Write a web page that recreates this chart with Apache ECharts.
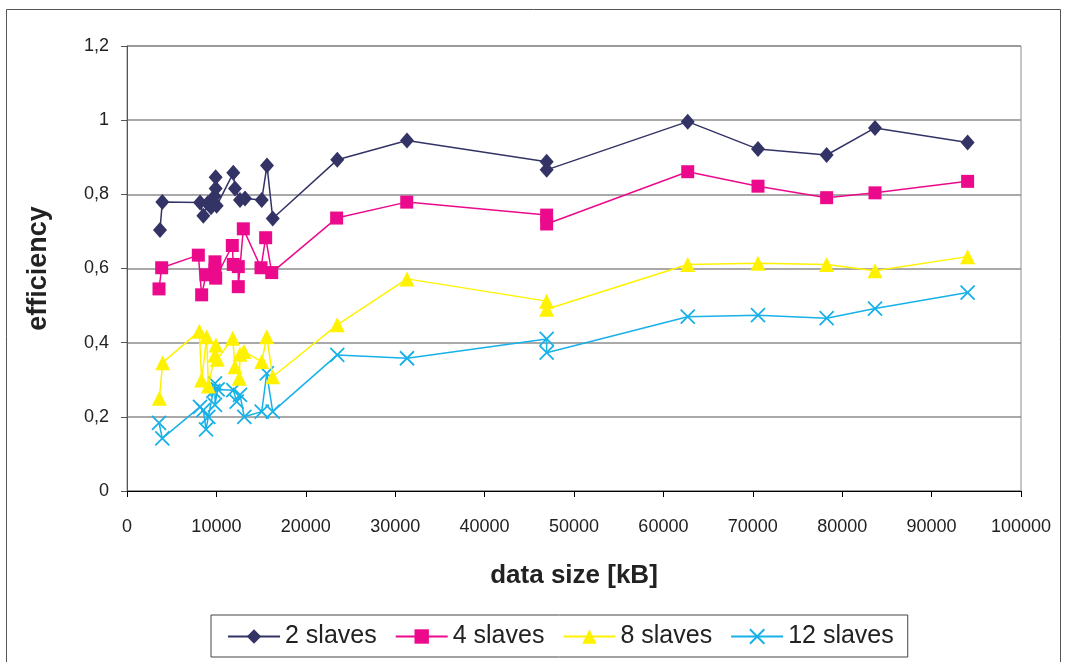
<!DOCTYPE html>
<html>
<head>
<meta charset="utf-8">
<script src="https://cdn.jsdelivr.net/npm/echarts@6/dist/echarts.min.js"></script>
<style>
  html, body { margin: 0; padding: 0; background: #fff; }
  #chart { width: 1067px; height: 662px; }
</style>
</head>
<body>
<div id="chart"></div>
<script>
// Parallel efficiency vs. input data size, one series per number of slaves
const seriesNames = ['2 slaves', '4 slaves', '8 slaves', '12 slaves'];

const sizes2 = [3690, 3950, 8170, 8540, 9020, 9400, 9920, 9920, 9800, 10030, 11890, 12080, 12640, 13200, 15070, 15660, 16300, 23520, 31320, 46940, 46940, 62720, 70580, 78260, 83670, 94030];
const eff2   = [0.704, 0.779, 0.778, 0.742, 0.776, 0.765, 0.846, 0.816, 0.795, 0.769, 0.858, 0.816, 0.785, 0.789, 0.785, 0.878, 0.735, 0.893, 0.945, 0.888, 0.866, 0.996, 0.922, 0.906, 0.979, 0.940];

const sizes4 = [3580, 3880, 7980, 8350, 8840, 9840, 9840, 9920, 11780, 11890, 12450, 12450, 13010, 14990, 15510, 16190, 23450, 31290, 46940, 46940, 62720, 70580, 78260, 83670, 94030];
const eff4   = [0.545, 0.602, 0.636, 0.529, 0.583, 0.618, 0.596, 0.574, 0.662, 0.611, 0.605, 0.551, 0.707, 0.602, 0.683, 0.589, 0.736, 0.779, 0.744, 0.720, 0.861, 0.822, 0.791, 0.804, 0.835];

const sizes8 = [3620, 3990, 8090, 8350, 8910, 9100, 9840, 9950, 10100, 11820, 12080, 12560, 12640, 13090, 15070, 15630, 16300, 23520, 31320, 46940, 46940, 62720, 70580, 78260, 83670, 94030];
const eff8   = [0.250, 0.346, 0.431, 0.299, 0.416, 0.283, 0.367, 0.394, 0.355, 0.412, 0.335, 0.304, 0.369, 0.376, 0.349, 0.416, 0.308, 0.448, 0.572, 0.512, 0.490, 0.611, 0.614, 0.611, 0.594, 0.632];

const sizes12 = [3580, 3950, 8170, 8540, 8840, 9100, 9660, 9840, 9840, 10140, 11890, 12270, 12640, 13120, 15070, 15630, 16300, 23520, 31320, 46940, 46940, 62720, 70580, 78260, 83670, 94030];
const eff12   = [0.184, 0.142, 0.227, 0.218, 0.166, 0.200, 0.270, 0.290, 0.232, 0.274, 0.272, 0.241, 0.259, 0.200, 0.214, 0.317, 0.214, 0.367, 0.358, 0.410, 0.373, 0.470, 0.474, 0.466, 0.492, 0.535];

const xTicks = { min: 0, max: 100000, step: 10000 };
const yTicks = { min: 0, max: 1.2, step: 0.2 };

const pairs = (xs, ys) => xs.map((x, i) => [x, ys[i]]);

const FONT = '"Liberation Sans", Arial, sans-serif';
const crossPath = 'path://M0,0L10,10M10,0L0,10';

const styles = [
  { color: '#333366', symbol: 'diamond', size: [14, 16] },
  { color: '#ec0a8c', symbol: 'rect', size: 13 },
  { color: '#fff200', symbol: 'triangle', size: 15 },
  { color: '#17b1e8', symbol: crossPath, size: 14 }
];
const dataSets = [pairs(sizes2, eff2), pairs(sizes4, eff4), pairs(sizes8, eff8), pairs(sizes12, eff12)];

const chart = echarts.init(document.getElementById('chart'), null, { renderer: 'canvas' });

chart.setOption({
  animation: false,
  backgroundColor: '#ffffff',
  textStyle: { fontFamily: FONT },
  graphic: [{
    type: 'rect',
    shape: { x: 6.5, y: 9.5, width: 1054, height: 670 },
    style: { fill: 'none', stroke: '#555555', lineWidth: 1 },
    silent: true,
    z: -1
  }],
  grid: {
    left: 127, top: 46, right: 46, bottom: 171,
    show: true, borderColor: '#8c8c8c', borderWidth: 1
  },
  legend: {
    left: 211, top: 615,
    padding: [9, 14, 8, 16],
    borderColor: '#444444', borderWidth: 1,
    itemWidth: 52, itemHeight: 18, itemGap: 18,
    textStyle: { fontFamily: FONT, fontSize: 25, color: '#222222' },
    data: seriesNames
  },
  xAxis: {
    type: 'value',
    min: xTicks.min, max: xTicks.max, interval: xTicks.step,
    name: 'data size [kB]',
    nameLocation: 'middle', nameGap: 72,
    nameTextStyle: { fontFamily: FONT, fontSize: 26, fontWeight: 'bold', color: '#222222' },
    axisLine: { show: true, lineStyle: { color: '#000000', width: 1 } },
    axisTick: { show: true, inside: false, length: 6, lineStyle: { color: '#000000' } },
    axisLabel: {
      fontFamily: FONT, fontSize: 18, color: '#222222', margin: 27,
      formatter: v => String(v)
    },
    splitLine: { show: false }
  },
  yAxis: {
    type: 'value',
    min: yTicks.min, max: yTicks.max, interval: yTicks.step,
    name: 'efficiency',
    nameLocation: 'middle', nameGap: 75,
    nameTextStyle: { fontFamily: FONT, fontSize: 27, fontWeight: 'bold', color: '#222222' },
    axisLine: { show: true, lineStyle: { color: '#555555', width: 1 } },
    axisTick: { show: true, inside: false, length: 6, lineStyle: { color: '#555555' } },
    axisLabel: {
      fontFamily: FONT, fontSize: 18, color: '#222222', margin: 18,
      formatter: v => String(+v.toFixed(1)).replace('.', ',')
    },
    splitLine: { show: true, lineStyle: { color: '#8c8c8c', width: 1.5 } }
  },
  series: seriesNames.map((name, i) => ({
    name,
    type: 'line',
    data: dataSets[i],
    symbol: styles[i].symbol,
    symbolSize: styles[i].size,
    showAllSymbol: true,
    color: styles[i].color,
    lineStyle: { color: styles[i].color, width: 1.5 },
    itemStyle: {
      color: styles[i].color,
      borderColor: styles[i].color,
      borderWidth: i === 3 ? 1.8 : 0
    },
    emphasis: { disabled: true },
    z: 2 + (3 - i)
  }))
});
</script>
</body>
</html>
